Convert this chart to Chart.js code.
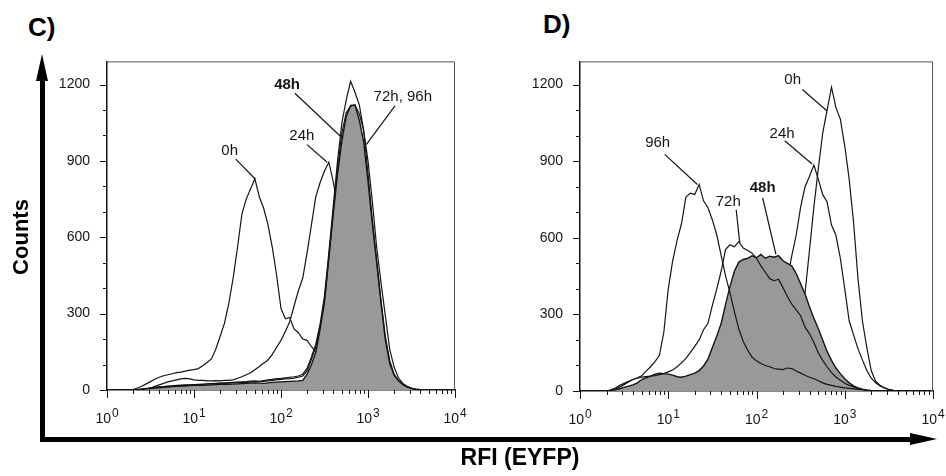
<!DOCTYPE html>
<html>
<head>
<meta charset="utf-8">
<script src="https://cdn.jsdelivr.net/npm/chart.js@4.4.1/dist/chart.umd.min.js"></script>
<style>
    body { margin: 0; background: #fff; }
    #page { position: relative; width: 946px; height: 476px; overflow: hidden;
            font-family: "Liberation Sans", Arial, sans-serif; color: #000; }
    .panel { position: absolute; top: 36px; height: 400px; }
    #panelC { left: 40px; width: 430px; }
    #panelD { left: 513px; width: 433px; }
    .tag { position: absolute; font-weight: bold; font-size: 26px; line-height: 26px; }
    #tagC { left: 28px; top: 14px; }
    #tagD { left: 543px; top: 11px; }
    .arrow-v { position: absolute; left: 40px; top: 78px; width: 5px; height: 364px; background: #000; }
    .head-up { position: absolute; left: 36px; top: 54px; width: 0; height: 0;
               border-left: 6.5px solid transparent; border-right: 6.5px solid transparent;
               border-bottom: 27px solid #000; }
    .arrow-h { position: absolute; left: 40px; top: 437px; width: 875px; height: 5px; background: #000; }
    .head-right { position: absolute; left: 910px; top: 433px; width: 0; height: 0;
                  border-top: 6.5px solid transparent; border-bottom: 6.5px solid transparent;
                  border-left: 27px solid #000; }
    #yTitle { position: absolute; left: 21px; top: 237px; white-space: nowrap;
              font-weight: bold; font-size: 22px; line-height: 22px;
              transform: translate(-50%, -50%) rotate(-90deg); }
    #xTitle { position: absolute; left: 520px; top: 446px; white-space: nowrap;
              font-weight: bold; font-size: 23px; line-height: 23px;
              transform: translateX(-50%); }
</style>
</head>
<body>
<div id="page">
    <div class="tag" id="tagC">C)</div>
    <div class="tag" id="tagD">D)</div>
    <div class="panel" id="panelC"><canvas id="chartC"></canvas></div>
    <div class="panel" id="panelD"><canvas id="chartD"></canvas></div>
    <div class="arrow-v"></div><div class="head-up"></div>
    <div class="arrow-h"></div><div class="head-right"></div>
    <div id="yTitle">Counts</div>
    <div id="xTitle">RFI (EYFP)</div>
</div>
<script>
// histogram channels, in decades of RFI (10^0 .. 10^4)
const logRfi = [
    0.00, 0.05, 0.10, 0.15, 0.20, 0.25, 0.30, 0.35, 0.40, 0.45,
    0.50, 0.55, 0.60, 0.65, 0.70, 0.75, 0.80, 0.85, 0.90, 0.95,
    1.00, 1.05, 1.10, 1.15, 1.20, 1.25, 1.30, 1.35, 1.40, 1.45,
    1.50, 1.55, 1.60, 1.65, 1.70, 1.75, 1.80, 1.85, 1.90, 1.95,
    2.00, 2.05, 2.10, 2.15, 2.20, 2.25, 2.30, 2.35, 2.40, 2.45,
    2.50, 2.55, 2.60, 2.65, 2.70, 2.75, 2.80, 2.85, 2.90, 2.95,
    3.00, 3.05, 3.10, 3.15, 3.20, 3.25, 3.30, 3.35, 3.40, 3.45,
    3.50, 3.55, 3.60, 3.65, 3.70, 3.75, 3.80, 3.85, 3.90, 3.95,
    4.00
];

const xDecades = [0, 1, 2, 3, 4];
const xExponents = ["0", "1", "2", "3", "4"];
const yLabelTicks = [0, 300, 600, 900, 1200];
const yStepTicks = [0, 100, 200, 300, 400, 500, 600, 700, 800, 900, 1000, 1100, 1200];
const yMax = 1291;

// panel C counts
const c0h = [
    0, 0, 0, 0, 0, 0, 2, 8, 15, 24,
    33, 42, 50, 56, 60, 64, 68, 70, 74, 78,
    80, 84, 95, 108, 122, 160, 210, 262, 340, 440,
    560, 690, 750, 790, 830, 760, 715, 650, 560, 450,
    320, 280, 285, 240, 225, 200, 195, 170, 150, 110,
    90, 65, 45, 32, 22, 15, 10, 6, 4, 2,
    1, 0, 0, 0, 0, 0, 0, 0, 0, 0,
    0, 0, 0, 0, 0, 0, 0, 0, 0, 0,
    0
];
const c24h = [
    0, 0, 0, 0, 0, 0, 0, 0, 0, 3,
    8, 14, 20, 26, 32, 36, 40, 44, 46, 44,
    40, 38, 38, 36, 36, 37, 36, 38, 38, 40,
    46, 52, 60, 68, 80, 92, 105, 118, 140, 168,
    195, 230, 268, 330, 390, 440, 540, 650, 760, 815,
    860, 895, 820, 720, 560, 430, 330, 250, 180, 120,
    80, 50, 30, 15, 6, 2, 0, 0, 0, 0,
    0, 0, 0, 0, 0, 0, 0, 0, 0, 0,
    0
];
const c48h = [
    0, 0, 0, 0, 0, 0, 0, 2, 3, 5,
    6, 8, 9, 11, 12, 14, 15, 16, 16, 17,
    18, 18, 18, 19, 20, 21, 22, 22, 22, 23,
    24, 25, 26, 27, 28, 27, 26, 28, 30, 31,
    32, 33, 34, 35, 36, 38, 62, 100, 148, 240,
    345, 520, 690, 850, 980, 1075, 1118, 1120, 1060, 975,
    820, 650, 500, 340, 195, 105, 58, 36, 22, 12,
    6, 3, 1, 0, 0, 0, 0, 0, 0, 0,
    0
];
const c72h = [
    0, 0, 0, 0, 0, 0, 0, 2, 4, 6,
    8, 10, 12, 13, 15, 16, 18, 19, 20, 20,
    21, 22, 22, 24, 25, 26, 27, 28, 29, 30,
    31, 32, 33, 35, 36, 34, 37, 40, 42, 45,
    46, 48, 50, 52, 55, 62, 85, 130, 180, 260,
    370, 540, 720, 900, 1050, 1140, 1213, 1170, 1120, 1020,
    850, 670, 510, 350, 210, 115, 62, 38, 22, 12,
    6, 3, 1, 0, 0, 0, 0, 0, 0, 0,
    0
];
const c96h = [
    0, 0, 0, 0, 0, 0, 0, 1, 3, 5,
    7, 9, 11, 12, 14, 15, 16, 17, 18, 19,
    20, 21, 22, 23, 24, 25, 26, 26, 27, 28,
    29, 30, 30, 31, 32, 33, 34, 36, 38, 40,
    42, 44, 45, 47, 50, 55, 75, 120, 170, 250,
    355, 520, 700, 870, 1010, 1090, 1115, 1120, 1085, 1020,
    900, 740, 560, 420, 290, 160, 90, 48, 26, 15,
    8, 4, 2, 1, 0, 0, 0, 0, 0, 0,
    0
];

// panel D counts
const d0h = [
    0, 0, 0, 0, 0, 0, 0, 0, 1, 1,
    1, 2, 2, 2, 2, 2, 2, 3, 3, 3,
    3, 3, 3, 3, 3, 3, 3, 3, 3, 3,
    3, 3, 4, 4, 4, 4, 4, 4, 5, 5,
    5, 6, 6, 7, 8, 10, 18, 35, 70, 140,
    250, 383, 550, 720, 870, 1010, 1100, 1190, 1110, 1065,
    960, 830, 660, 440, 275, 170, 80, 38, 22, 12,
    6, 3, 1, 0, 0, 0, 0, 0, 0, 0,
    0
];
const d24h = [
    0, 0, 0, 0, 0, 0, 0, 0, 1, 2,
    3, 4, 5, 5, 6, 6, 7, 8, 9, 10,
    11, 12, 13, 15, 17, 20, 23, 27, 30, 35,
    40, 45, 52, 58, 65, 75, 85, 100, 115, 130,
    150, 175, 205, 240, 290, 340, 400, 440, 530, 611,
    720, 800, 840, 885, 830, 770, 740, 650, 610, 520,
    400, 275, 220, 165, 122, 80, 50, 32, 20, 12,
    6, 3, 1, 0, 0, 0, 0, 0, 0, 0,
    0
];
const d48h = [
    0, 0, 0, 0, 0, 0, 0, 2, 5, 9,
    14, 19, 24, 32, 45, 52, 58, 66, 70, 68,
    66, 62, 56, 54, 58, 64, 70, 80, 98, 125,
    170, 215, 265, 340, 410, 470, 505, 515, 520, 530,
    522, 535, 520, 528, 524, 530, 510, 500, 490, 460,
    420, 380, 330, 285, 245, 200, 155, 120, 90, 68,
    48, 32, 20, 12, 7, 4, 2, 1, 0, 0,
    0, 0, 0, 0, 0, 0, 0, 0, 0, 0,
    0
];
const d72h = [
    0, 0, 0, 0, 0, 0, 0, 3, 8, 15,
    25, 35, 45, 50, 54, 56, 58, 60, 64, 68,
    75, 82, 95, 110, 128, 150, 175, 200, 240, 265,
    335, 400, 470, 555, 573, 565, 585, 560, 550, 540,
    520, 490, 465, 440, 432, 438, 405, 370, 340, 318,
    295, 250, 225, 190, 150, 120, 95, 72, 55, 42,
    30, 22, 16, 10, 6, 3, 2, 1, 0, 0,
    0, 0, 0, 0, 0, 0, 0, 0, 0, 0,
    0
];
const d96h = [
    0, 0, 0, 0, 0, 0, 0, 5, 12, 22,
    30, 38, 45, 52, 60, 78, 95, 115, 140, 230,
    400, 510, 590, 655, 760, 775, 770, 809, 745, 718,
    670, 611, 530, 450, 384, 310, 243, 194, 160, 132,
    118, 108, 100, 95, 88, 86, 84, 90, 88, 78,
    70, 62, 54, 48, 40, 32, 26, 22, 18, 15,
    12, 10, 8, 6, 5, 3, 2, 1, 0, 0,
    0, 0, 0, 0, 0, 0, 0, 0, 0, 0,
    0
];

// curve labels: text centre, leader start and end as [decade, count]
const cNotes = [
    { text: "0h",       bold: false, at: [1.41, 941],  from: [1.48, 907],  to: [1.70, 830] },
    { text: "24h",      bold: false, at: [2.24, 998],  from: [2.30, 964],  to: [2.53, 895] },
    { text: "48h",      bold: true,  at: [2.07, 1200], from: [2.16, 1166], to: [2.68, 998] },
    { text: "72h, 96h", bold: false, at: [3.40, 1150], from: [3.31, 1116], to: [2.98, 964] }
];
const dNotes = [
    { text: "0h",  bold: false, at: [2.41, 1219], from: [2.52, 1181], to: [2.80, 1097] },
    { text: "24h", bold: false, at: [2.29, 1006], from: [2.32, 980],  to: [2.63, 889] },
    { text: "96h", bold: false, at: [0.88, 972],  from: [0.96, 927],  to: [1.33, 809] },
    { text: "72h", bold: false, at: [1.68, 741],  from: [1.77, 710],  to: [1.81, 581] },
    { text: "48h", bold: true,  at: [2.07, 794],  from: [2.07, 756],  to: [2.22, 535] }
];

const FONT = '"Liberation Sans", Arial, sans-serif';
const INK = "#151515";
const FILL = "#999999";

Chart.defaults.font.family = FONT;

const panelDecor = {
    id: "panelDecor",
    afterDraw(chart, args, opts) {
        const ctx = chart.ctx;
        const a = chart.chartArea;
        const xs = chart.scales.x;
        const ys = chart.scales.y;

        ctx.save();

        // thin top and right frame
        ctx.strokeStyle = "#555";
        ctx.lineWidth = 1;
        ctx.beginPath();
        ctx.moveTo(a.left, a.top + 0.5);
        ctx.lineTo(a.right - 0.5, a.top + 0.5);
        ctx.lineTo(a.right - 0.5, a.bottom);
        ctx.stroke();

        // tick marks
        ctx.strokeStyle = INK;
        ctx.beginPath();
        yStepTicks.forEach(v => {
            const py = Math.round(ys.getPixelForValue(v)) + 0.5;
            const len = yLabelTicks.includes(v) ? 7 : 4;
            ctx.moveTo(a.left - len, py);
            ctx.lineTo(a.left, py);
        });
        xDecades.forEach(d => {
            const steps = d < 4 ? [1, 2, 3, 4, 5, 6, 7, 8, 9] : [1];
            steps.forEach(m => {
                const px = Math.round(xs.getPixelForValue(m * 10 ** d)) + 0.5;
                const len = m === 1 ? 8 : 4;
                ctx.moveTo(px, a.bottom);
                ctx.lineTo(px, a.bottom + len);
            });
        });
        ctx.stroke();

        // 10^n labels
        ctx.fillStyle = INK;
        ctx.textBaseline = "alphabetic";
        ctx.textAlign = "left";
        xDecades.forEach((d, i) => {
            const px = xs.getPixelForValue(10 ** d);
            ctx.font = "14px " + FONT;
            const wBase = ctx.measureText("10").width;
            ctx.font = "12px " + FONT;
            const wExp = ctx.measureText(xExponents[i]).width;
            const x0 = px - (wBase + wExp + 1) / 2;
            ctx.font = "14px " + FONT;
            ctx.fillText("10", x0, a.bottom + 33);
            ctx.font = "12px " + FONT;
            ctx.fillText(xExponents[i], x0 + wBase + 1, a.bottom + 27);
        });

        // curve labels with leader lines
        ctx.lineWidth = 1.2;
        ctx.strokeStyle = INK;
        ctx.textAlign = "center";
        ctx.textBaseline = "middle";
        opts.notes.forEach(n => {
            ctx.beginPath();
            ctx.moveTo(xs.getPixelForValue(10 ** n.from[0]), ys.getPixelForValue(n.from[1]));
            ctx.lineTo(xs.getPixelForValue(10 ** n.to[0]), ys.getPixelForValue(n.to[1]));
            ctx.stroke();
            ctx.font = (n.bold ? "bold " : "") + "15px " + FONT;
            ctx.fillText(n.text, xs.getPixelForValue(10 ** n.at[0]), ys.getPixelForValue(n.at[1]));
        });

        ctx.restore();
    }
};

function toPoints(counts) {
    return logRfi.map((d, i) => ({ x: 10 ** d, y: counts[i] }));
}

function lineSet(label, counts, order) {
    return {
        label: label,
        data: toPoints(counts),
        borderColor: INK,
        borderWidth: 1.2,
        pointRadius: 0,
        tension: 0,
        fill: false,
        order: order
    };
}

function makePanel(canvasId, series, notes, axisWidth, axisHeight, padRight) {

    const ctx = document.getElementById(canvasId);

    return new Chart(ctx, {
        type: "line",
        data: {
            datasets: [
                lineSet("72h", series.h72, 1),
                lineSet("96h", series.h96, 0),
                {
                    label: "48h",
                    data: toPoints(series.h48),
                    borderColor: INK,
                    borderWidth: 1.4,
                    backgroundColor: FILL,
                    pointRadius: 0,
                    tension: 0,
                    fill: "origin",
                    order: 2
                },
                lineSet("24h", series.h24, 3),
                lineSet("0h", series.h0, 4)
            ]
        },
        options: {
            responsive: true,
            maintainAspectRatio: false,
            animation: false,
            events: [],
            layout: {
                padding: { left: 0, right: padRight, top: 15, bottom: 0 }
            },
            plugins: {
                legend: { display: false },
                tooltip: { enabled: false },
                panelDecor: { notes: notes }
            },
            scales: {
                x: {
                    type: "logarithmic",
                    min: 1,
                    max: 10000,
                    grid: { display: false, drawTicks: false },
                    border: { display: true, color: "#111", width: 1.5 },
                    ticks: { display: false },
                    afterFit: s => { s.height = axisHeight; }
                },
                y: {
                    type: "linear",
                    min: 0,
                    max: yMax,
                    grid: { display: false, drawTicks: false },
                    border: { display: true, color: "#111", width: 1.5 },
                    ticks: {
                        autoSkip: false,
                        padding: 17,
                        color: INK,
                        font: { size: 14 },
                        callback: v => yLabelTicks.includes(v) ? String(v) : ""
                    },
                    afterBuildTicks: s => { s.ticks = yStepTicks.map(v => ({ value: v })); },
                    afterFit: s => { s.width = axisWidth; }
                }
            }
        },
        plugins: [panelDecor]
    });
}

makePanel("chartC", { h0: c0h, h24: c24h, h48: c48h, h72: c72h, h96: c96h }, cNotes, 67, 46, 15);
makePanel("chartD", { h0: d0h, h24: d24h, h48: d48h, h72: d72h, h96: d96h }, dNotes, 67, 45, 13);
</script>
</body>
</html>
